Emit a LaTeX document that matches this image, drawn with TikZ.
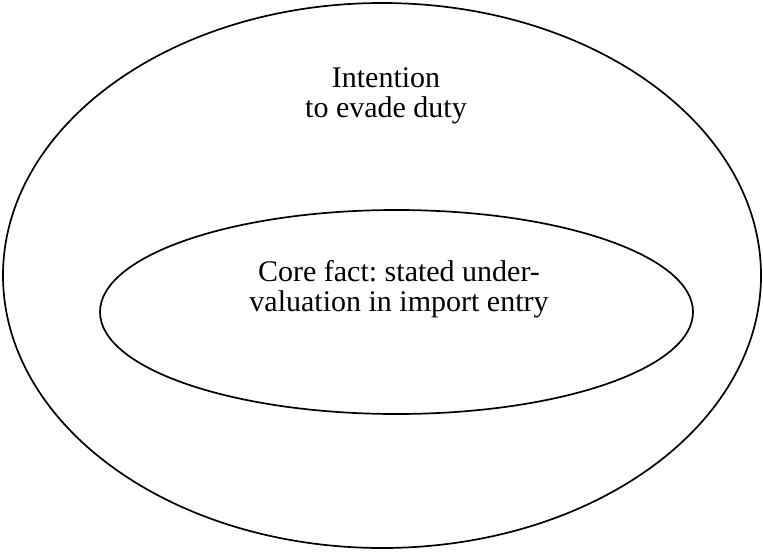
\documentclass[tikz,border=0pt]{standalone}
\usepackage{fontspec}
\setmainfont{Liberation Serif}
\usetikzlibrary{shapes.geometric}
\tikzset{
  ring/.style={draw, ellipse, line width=0.85pt, inner sep=0pt},
  caption/.style={align=center, font=\fontsize{15}{15}\selectfont\frenchspacing, inner sep=0pt},
}

\begin{document}
\begin{tikzpicture}[x=0.5pt, y=-0.5pt]
  \useasboundingbox (0,0) rectangle (763,551);

  \node[ring, minimum width=379pt, minimum height=272.5pt] (outer) at (382,275.5) {};
  \node[ring, minimum width=296.5pt, minimum height=102pt] (inner) at (396.5,312) {};

  \node[caption] (intent) at (386,96) {Intention\\to evade duty};
  \node[caption] (core) at (399,289.5) {Core fact: stated under-\\valuation in import entry};
\end{tikzpicture}
\end{document}
